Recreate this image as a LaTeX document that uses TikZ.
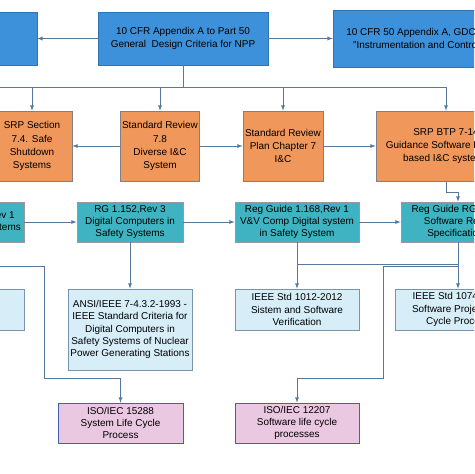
\documentclass[tikz,border=0pt]{standalone}
\usepackage{fontspec}
\setmainfont{Liberation Sans}
\usepackage{tikz}
\usetikzlibrary{positioning}

\definecolor{gdcfill}{HTML}{3D90DA}
\definecolor{srpfill}{HTML}{F0975B}
\definecolor{rgfill}{HTML}{40B3C2}
\definecolor{stdfill}{HTML}{D7EEF9}
\definecolor{isofill}{HTML}{EAC8E1}
\definecolor{wire}{HTML}{56789A}

\begin{document}
\begin{tikzpicture}[x=0.03cm,y=-0.03cm,>=latex,
    every node/.style={inner xsep=1pt,inner ysep=0pt,align=center,
      font=\fontsize{8.5}{10.5}\selectfont},
    gdcbox/.style={fill=gdcfill,draw=gdcfill!80!black,line width=0.4pt,
      font=\fontsize{8.5}{11}\selectfont},
    srpbox/.style={fill=srpfill,draw=gray,line width=0.6pt,minimum height=2.1cm,
      font=\fontsize{8.5}{11.2}\selectfont},
    rgbox/.style={fill=rgfill,draw=gray!80,line width=0.6pt,minimum height=1.2cm},
    stdbox/.style={fill=stdfill,draw=wire!80,line width=0.6pt},
    isobox/.style={fill=isofill,draw=wire!80!blue,line width=0.6pt,minimum height=1.2cm},
    wire/.style={draw=wire,line width=0.6pt}]
  \useasboundingbox (0,0) rectangle (474,474);
  \clip (0,0) rectangle (474,474);

  % general design criteria
  \node[gdcbox,minimum width=3.51cm,minimum height=1.59cm] (gdcL) at (-21.5,38.5) {};
  \node[gdcbox,minimum width=5.1cm,minimum height=1.59cm] (gdc) at (183,38.5)
    {10 CFR Appendix A to Part 50\\General\ \ Design Criteria for NPP};
  \node[gdcbox,minimum width=5.1cm,minimum height=1.71cm] (gdcR) at (418,38.5)
    {10 CFR 50 Appendix A, GDC 13\\"Instrumentation and Control"};

  % standard review plan
  \node[srpbox,minimum width=2.4cm] (srp74) at (32,146)
    {SRP Section\\7.4. Safe\\Shutdown\\Systems};
  \node[srpbox,minimum width=2.37cm] (sr78) at (160,146)
    {Standard Review\\7.8\\Diverse I\&C\\System};
  \node[srpbox,minimum width=2.4cm] (srp7) at (283,146)
    {Standard Review\\Plan Chapter 7\\I\&C};
  \node[srpbox,minimum width=4.2cm] (btp) at (446,146)
    {SRP BTP 7-14\\Guidance Software Review\\based I\&C systems};

  % regulatory guides
  \node[rgbox,minimum width=2.7cm] (rgL) at (-21,222)
    {RG 1.153,Rev 1\\for Safety Systems};
  \node[rgbox,minimum width=3.18cm] (rg152) at (130,222)
    {RG 1.152,Rev 3\\Digital Computers in\\Safety Systems};
  \node[rgbox,minimum width=3.72cm] (rg168) at (297,222)
    {Reg Guide 1.168,Rev 1\\V\&V Comp Digital system\\in Safety System};
  \node[rgbox,minimum width=3.42cm] (rg172) at (458,222)
    {Reg Guide RG 1.172\\Software Reqs.\\Specifications};

  % standards
  \node[stdbox,minimum width=2.52cm,minimum height=1.23cm] (stdL) at (-18,309.5) {};
  \node[stdbox,minimum width=3.72cm,minimum height=2.43cm] (ansi) at (130,329.5)
    {ANSI/IEEE 7-4.3.2-1993 -\\IEEE Standard Criteria for\\Digital Computers in\\Safety Systems of Nuclear\\Power Generating Stations};
  \node[stdbox,minimum width=3.72cm,minimum height=1.23cm] (ieee1012) at (297,309.5)
    {IEEE Std 1012-2012\\Sistem and Software\\Verification};
  \node[stdbox,minimum width=3.78cm,minimum height=1.23cm] (ieee1074) at (458,309.5)
    {IEEE Std 1074-2006\\Software Project Life\\Cycle Process};

  \node[isobox,minimum width=3.75cm] (iso15288) at (120.5,423)
    {ISO/IEC 15288\\System Life Cycle\\Process};
  \node[isobox,minimum width=3.72cm] (iso12207) at (297,423)
    {ISO/IEC 12207\\Software life cycle\\processes};

  % connectors
  \coordinate (busA) at (-100,87);
  \coordinate (busB) at (0,264);
  \coordinate (kneeA) at (44,266);
  \coordinate (kneeB) at (44,378);
  \coordinate (kneeC) at (383,266);
  \coordinate (kneeD) at (383,378);

  \draw[wire,->] (gdc.west) -- (gdcL.east);
  \draw[wire,->] (gdc.east) -- (gdcR.west);
  \draw[wire] (gdc.south) -- (gdc.south |- busA);
  \draw[wire] (busA) -- (btp.north |- busA);
  \foreach \n in {srp74,sr78,srp7,btp}
    \draw[wire,->] (\n.north |- busA) -- (\n.north);

  \draw[wire,->] (sr78.west) -- (srp74.east);
  \draw[wire,->] (sr78.east) -- (srp7.west);
  \draw[wire,->] (srp7.east) -- (btp.west);
  \draw[wire,->] (btp.south) -- ++(0,11) -| (rg172.north);

  \draw[wire,->] (rgL.east) -- (rg152.west);
  \draw[wire,->] (rg152.east) -- (rg168.west);
  \draw[wire,->] (rg168.east) -- (rg172.west);

  \draw[wire,->] (rg152.south) -- (ansi.north);
  \draw[wire,->] (rg168.south) -- (ieee1012.north);
  \draw[wire,->] (rg172.south) -- (ieee1074.north);
  \draw[wire] (rg168.south |- busB) -- (rg172.south |- busB);

  \draw[wire,->] (rgL.south) |- (kneeA) -- (kneeB) -| (iso15288.north);
  \draw[wire,->] (rg172.south |- kneeC) -- (kneeC) -- (kneeD) -| (iso12207.north);
\end{tikzpicture}
\end{document}
